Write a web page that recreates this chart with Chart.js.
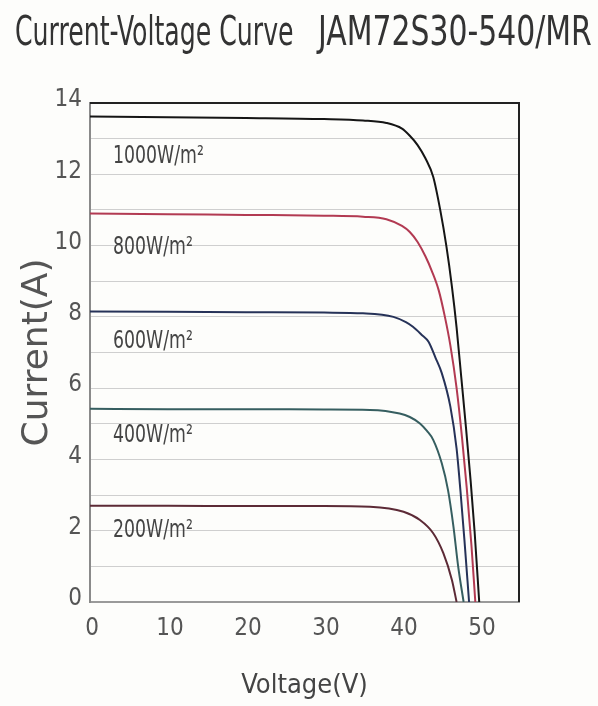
<!DOCTYPE html>
<html lang="en">
<head>
  <meta charset="UTF-8">
  <title>Current-Voltage Curve JAM72S30-540/MR</title>
  <script src="https://cdn.jsdelivr.net/npm/chart.js"></script>
  <style>
    body {
      margin: 0;
      background-color: #fdfdfb;
    }
    #chart-container {
      width: 598px;
      height: 706px;
      position: relative;
    }
    .title-part {
      position: absolute;
      top: 7px;
      margin: 0;
      font-family: "DejaVu Sans Condensed", "DejaVu Sans", sans-serif;
      font-size: 40px;
      font-weight: normal;
      line-height: 48px;
      color: #333;
      white-space: pre;
      transform-origin: 0 0;
    }
    #title-a { left: 15px; transform: scaleX(0.70); }
    #title-b { left: 318px; transform: scaleX(0.83); }
  </style>
</head>
<body>

<div id="chart-container">
  <canvas id="ivChart"></canvas>
  <h1 id="title-a" class="title-part">Current-Voltage Curve</h1>
  <h1 id="title-b" class="title-part">JAM72S30-540/MR</h1>
</div>

<script>
  // values: voltage (V) and current (A) per irradiance
  const v1000 = [0, 10, 20, 30, 35, 38, 40, 41, 42, 43, 44, 44.9, 45.7, 46.4, 47, 47.6, 48.2, 48.8, 49.3, 49.9];
  const i1000 = [13.62, 13.6, 13.58, 13.55, 13.51, 13.44, 13.28, 13.08, 12.82, 12.45, 11.93, 11.0, 9.97, 8.85, 7.7, 6.3, 4.9, 3.4, 2.0, 0];

  const v800 = [0, 10, 20, 30, 35, 38, 40, 41, 42, 43, 43.8, 44.7, 45.5, 46.2, 47, 47.7, 48.3, 48.9, 49.4];
  const i800 = [10.9, 10.88, 10.86, 10.84, 10.81, 10.74, 10.55, 10.38, 10.1, 9.7, 9.3, 8.75, 8.0, 7.2, 6.0, 4.6, 3.2, 1.6, 0];

  const v600 = [0, 10, 20, 30, 35, 38.9, 40.5, 41.4, 42.5, 43.4, 44.3, 45.1, 46.2, 47, 47.5, 48, 48.6];
  const i600 = [8.15, 8.14, 8.13, 8.12, 8.1, 8.0, 7.85, 7.72, 7.5, 7.3, 6.85, 6.42, 5.48, 4.3, 3.1, 1.75, 0];

  const v400 = [0, 10, 20, 30, 35.9, 39.7, 41, 42.3, 43.2, 44, 45.1, 45.9, 46.6, 47.2, 47.9];
  const i400 = [5.42, 5.41, 5.41, 5.4, 5.39, 5.29, 5.19, 5.01, 4.8, 4.55, 3.89, 3.14, 2.11, 1.0, 0];

  const v200 = [0, 10, 20, 30, 35.9, 40.2, 42.3, 44, 45.3, 46.4, 47];
  const i200 = [2.7, 2.7, 2.69, 2.69, 2.67, 2.53, 2.3, 1.93, 1.37, 0.62, 0];

  const irradiance = ['1000W/m²', '800W/m²', '600W/m²', '400W/m²', '200W/m²'];
  const xTicks = [0, 10, 20, 30, 40, 50];
  const yTicks = [0, 2, 4, 6, 8, 10, 12, 14];

  function toPoints(vs, is) {
    return vs.map(function (v, k) { return { x: v, y: is[k] }; });
  }

  const curves = [
    { data: toPoints(v1000, i1000), color: '#151515' },
    { data: toPoints(v800, i800), color: '#b23a52' },
    { data: toPoints(v600, i600), color: '#263258' },
    { data: toPoints(v400, i400), color: '#365e60' },
    { data: toPoints(v200, i200), color: '#5c2a36' }
  ];

  const narrow = '"DejaVu Sans Condensed", sans-serif';

  // box round the plot, black on top and right
  const frame = {
    id: 'frame',
    afterDraw: function (chart) {
      const a = chart.chartArea;
      const ctx = chart.ctx;
      ctx.save();
      ctx.strokeStyle = '#222';
      ctx.lineWidth = 2;
      ctx.beginPath();
      ctx.moveTo(a.left, a.top);
      ctx.lineTo(a.right, a.top);
      ctx.lineTo(a.right, a.bottom);
      ctx.stroke();
      ctx.restore();
    }
  };

  // irradiance captions inside the plot, squeezed like the original print
  const captions = {
    id: 'captions',
    afterDatasetsDraw: function (chart, args, opts) {
      const ctx = chart.ctx;
      const xs = chart.scales.x;
      const ys = chart.scales.y;
      ctx.save();
      ctx.font = opts.font;
      ctx.fillStyle = opts.color;
      ctx.textBaseline = 'middle';
      ctx.textAlign = 'left';
      irradiance.forEach(function (txt, k) {
        const px = xs.getPixelForValue(opts.x);
        const py = ys.getPixelForValue(opts.y[k]);
        ctx.save();
        ctx.translate(px, py);
        ctx.scale(opts.squeeze, 1);
        ctx.fillText(txt, 0, 0);
        ctx.restore();
      });
      ctx.restore();
    }
  };

  const ctx = document.getElementById('ivChart').getContext('2d');
  new Chart(ctx, {
    type: 'scatter',
    data: {
      datasets: curves.map(function (c, k) {
        return {
          label: irradiance[k],
          data: c.data,
          showLine: true,
          borderColor: c.color,
          backgroundColor: c.color,
          borderWidth: 2,
          pointRadius: 0,
          cubicInterpolationMode: 'monotone'
        };
      })
    },
    plugins: [frame, captions],
    options: {
      responsive: true,
      maintainAspectRatio: false,
      animation: false,
      layout: {
        padding: { top: 103, right: 79, bottom: 0, left: 0 }
      },
      plugins: {
        legend: { display: false },
        tooltip: { enabled: false },
        captions: {
          x: 2.95,
          y: [12.51, 9.95, 7.32, 4.66, 2.02],
          font: '25px ' + narrow,
          color: '#444',
          squeeze: 0.77
        }
      },
      scales: {
        x: {
          type: 'linear',
          min: 0,
          max: 55,
          afterFit: function (scale) { scale.height = 104; },
          afterBuildTicks: function (scale) {
            scale.ticks = xTicks.map(function (v) { return { value: v }; });
          },
          grid: { display: false, drawTicks: false },
          border: { display: true, color: '#9a9a9a', width: 2 },
          ticks: {
            color: '#555',
            padding: 12,
            labelOffset: 2,
            font: { family: narrow, size: 24 }
          },
          title: {
            display: true,
            text: 'Voltage(V)',
            color: '#444',
            font: { family: narrow, size: 27 },
            padding: { top: 0, bottom: 4 }
          }
        },
        y: {
          type: 'linear',
          min: 0,
          max: 14,
          afterFit: function (scale) { scale.width = 90; },
          ticks: {
            stepSize: 1,
            color: '#555',
            padding: 8,
            labelOffset: -3,
            font: { family: narrow, size: 24 },
            callback: function (v) { return yTicks.indexOf(v) >= 0 ? v : ''; }
          },
          grid: { color: '#cfcfcf', lineWidth: 1, drawTicks: false },
          border: { display: true, color: '#8a8a8a', width: 2 },
          title: {
            display: true,
            text: 'Current(A)',
            color: '#555',
            font: { family: '"DejaVu Sans", sans-serif', size: 36 },
            padding: { top: 16, bottom: 0 }
          }
        }
      }
    }
  });
</script>
</body>
</html>
